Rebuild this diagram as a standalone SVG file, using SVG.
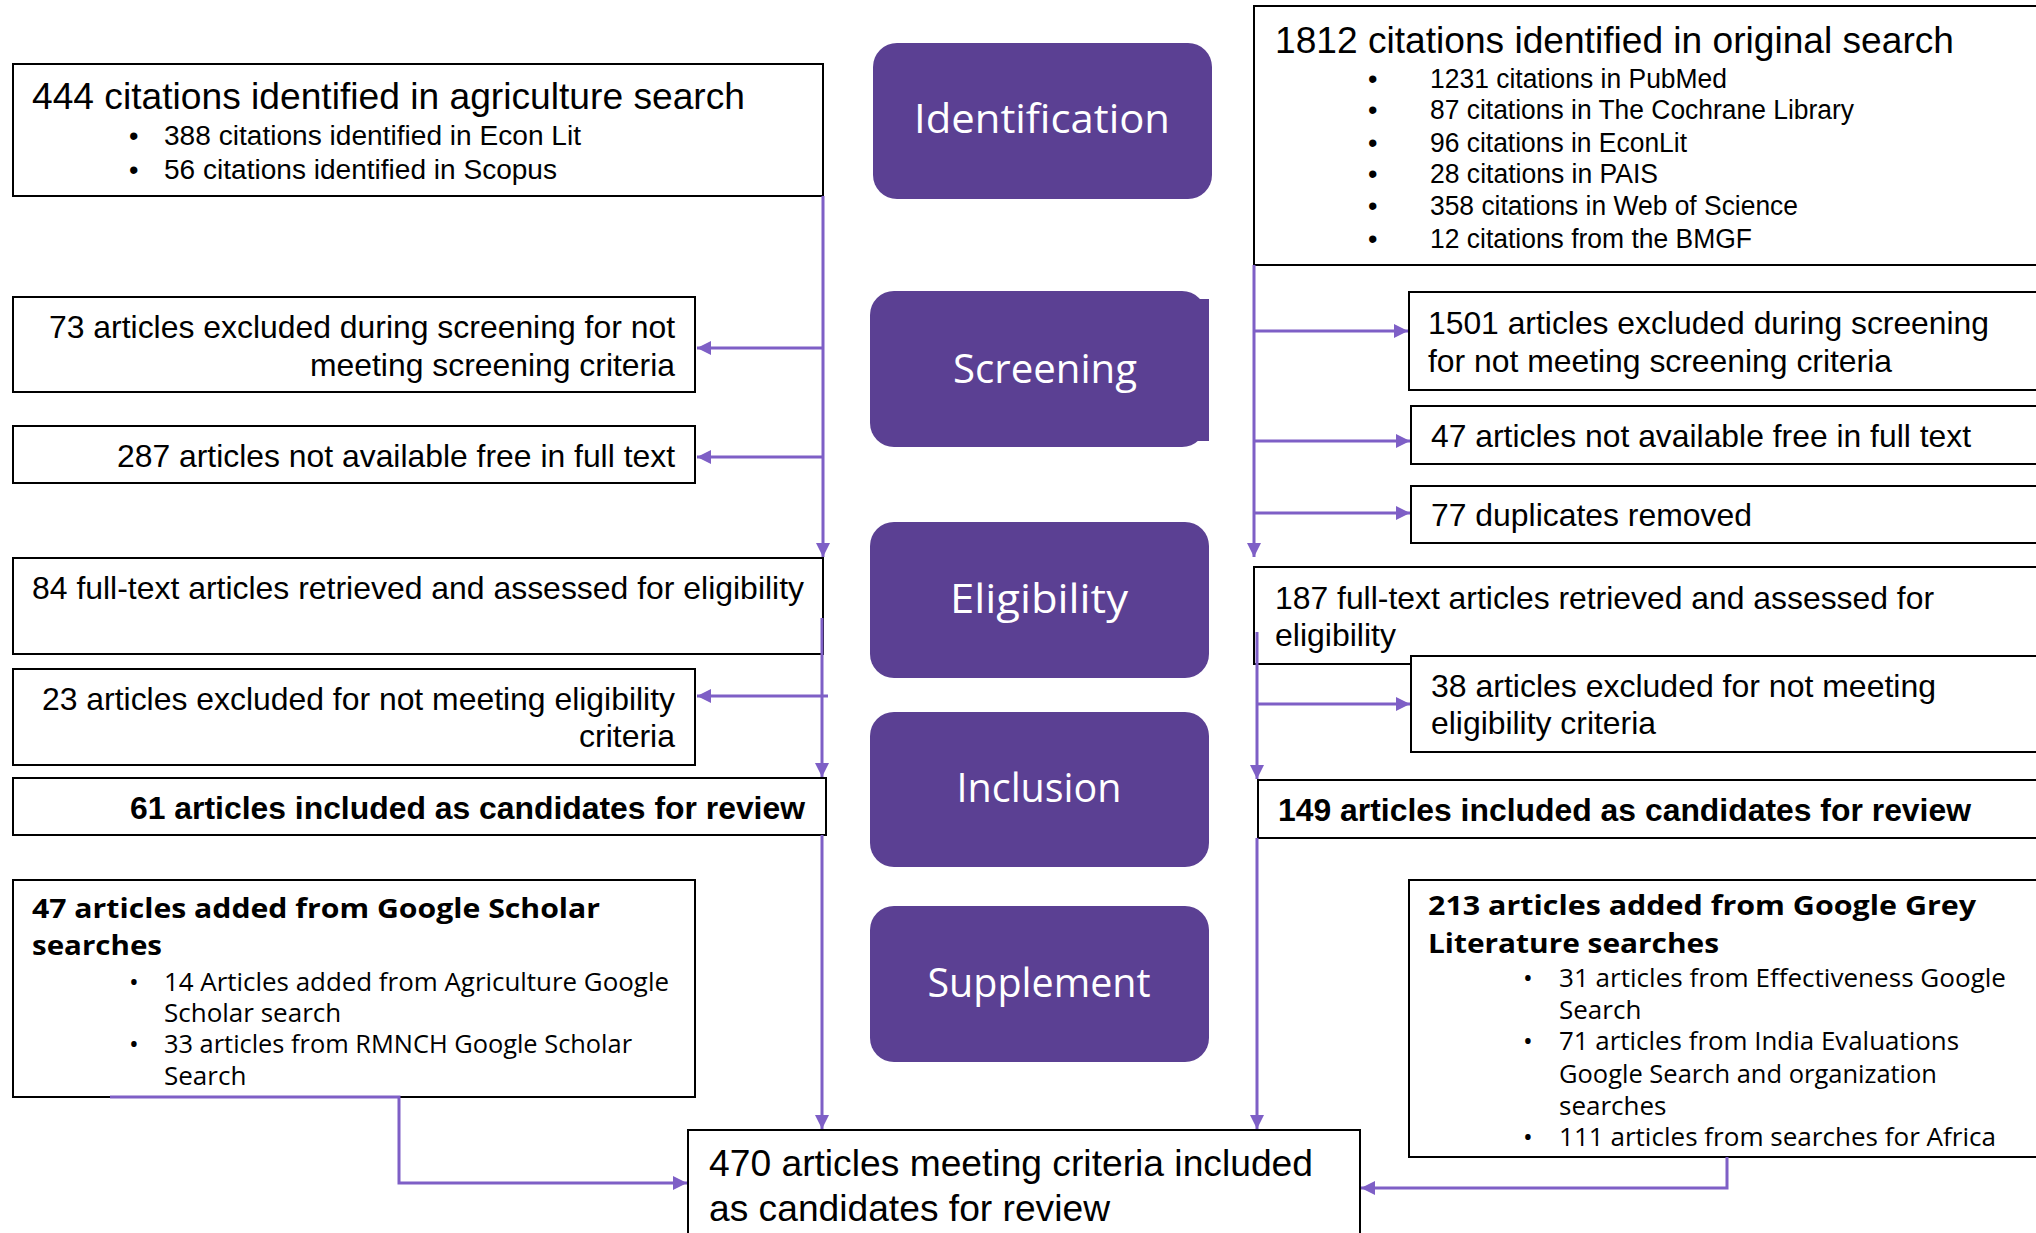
<svg xmlns="http://www.w3.org/2000/svg" width="2036" height="1233" viewBox="0 0 2036 1233">
<style>
.box{fill:#fff;stroke:#000;stroke-width:2}
.stage{fill:#5B4093}
.st{font-family:"Open Sans","DejaVu Sans",sans-serif;fill:#fff;font-size:40px;text-anchor:middle}
.t{font-family:"Liberation Sans",Arial,sans-serif;fill:#000}
.big{font-size:37px}
.mid{font-size:32px}
.sm{font-size:27px}
.b{font-weight:bold}
.r{text-anchor:end}
.g{font-family:"Open Sans","DejaVu Sans",sans-serif;fill:#000;font-size:26px}
.conn{stroke:#7E5FC6;stroke-width:3;fill:none}
</style>
<defs>
<marker id="ah" viewBox="0 0 10 10" refX="10" refY="5" markerWidth="14" markerHeight="14" markerUnits="userSpaceOnUse" orient="auto">
<path d="M0,0 L10,5 L0,10 z" fill="#7E5FC6"/>
</marker>
</defs>
<rect width="2036" height="1233" fill="#fff"/>

<g id="stage-identification"><rect class="stage" x="873" y="43" width="339" height="156" rx="24"/><text class="st" x="1042" y="133" textLength="256" lengthAdjust="spacingAndGlyphs">Identification</text></g>
<g id="stage-screening"><rect class="stage" x="870" y="291" width="336" height="156" rx="24"/><rect class="stage" x="1192" y="299" width="17" height="142"/><text class="st" x="1045" y="383" textLength="184" lengthAdjust="spacingAndGlyphs">Screening</text></g>
<g id="stage-eligibility"><rect class="stage" x="870" y="522" width="339" height="156" rx="24"/><text class="st" x="1039" y="613" textLength="178" lengthAdjust="spacingAndGlyphs">Eligibility</text></g>
<g id="stage-inclusion"><rect class="stage" x="870" y="712" width="339" height="155" rx="24"/><text class="st" x="1039" y="802" textLength="165" lengthAdjust="spacingAndGlyphs">Inclusion</text></g>
<g id="stage-supplement"><rect class="stage" x="870" y="906" width="339" height="156" rx="24"/><text class="st" x="1039" y="997" textLength="223" lengthAdjust="spacingAndGlyphs">Supplement</text></g>

<g id="agri-search"><rect class="box" x="13" y="64" width="810" height="132"/>
<text class="t big" x="32" y="109" textLength="713" lengthAdjust="spacingAndGlyphs">444 citations identified in agriculture search</text>
<text class="t sm" x="129" y="145">•</text><text class="t sm" x="164" y="145" textLength="417" lengthAdjust="spacingAndGlyphs">388 citations identified in Econ Lit</text>
<text class="t sm" x="129" y="179">•</text><text class="t sm" x="164" y="179" textLength="393" lengthAdjust="spacingAndGlyphs">56 citations identified in Scopus</text></g>

<g id="agri-excluded-screening"><rect class="box" x="13" y="297" width="682" height="95"/>
<text class="t mid r" x="675" y="338" textLength="626" lengthAdjust="spacingAndGlyphs">73 articles excluded during screening for not</text>
<text class="t mid r" x="675" y="376" textLength="365" lengthAdjust="spacingAndGlyphs">meeting screening criteria</text></g>

<g id="agri-not-free"><rect class="box" x="13" y="426" width="682" height="57"/>
<text class="t mid r" x="675" y="467" textLength="558" lengthAdjust="spacingAndGlyphs">287 articles not available free in full text</text></g>

<g id="agri-fulltext"><rect class="box" x="13" y="558" width="810" height="96"/>
<text class="t mid" x="32" y="599" textLength="772" lengthAdjust="spacingAndGlyphs">84 full-text articles retrieved and assessed for eligibility</text></g>

<g id="agri-excluded-eligibility"><rect class="box" x="13" y="669" width="682" height="96"/>
<text class="t mid r" x="675" y="710" textLength="633" lengthAdjust="spacingAndGlyphs">23 articles excluded for not meeting eligibility</text>
<text class="t mid r" x="675" y="747">criteria</text></g>

<g id="agri-included"><rect class="box" x="13" y="778" width="813" height="57"/>
<text class="t mid b r" x="805" y="819" textLength="675" lengthAdjust="spacingAndGlyphs">61 articles included as candidates for review</text></g>

<g id="google-scholar"><rect class="box" x="13" y="880" width="682" height="217"/>
<text class="g b" x="32" y="918" textLength="568" lengthAdjust="spacingAndGlyphs">47 articles added from Google Scholar</text>
<text class="g b" x="32" y="955" textLength="130" lengthAdjust="spacingAndGlyphs">searches</text>
<text class="g" x="129" y="991">•</text><text class="g" x="164" y="991" textLength="505" lengthAdjust="spacingAndGlyphs">14 Articles added from Agriculture Google</text>
<text class="g" x="164" y="1022">Scholar search</text>
<text class="g" x="129" y="1053">•</text><text class="g" x="164" y="1053" textLength="468" lengthAdjust="spacingAndGlyphs">33 articles from RMNCH Google Scholar</text>
<text class="g" x="164" y="1085">Search</text></g>

<g id="orig-search"><rect class="box" x="1254" y="6" width="800" height="259"/>
<text class="t big" x="1275" y="53" textLength="679" lengthAdjust="spacingAndGlyphs">1812 citations identified in original search</text>
<text class="t sm" x="1368" y="88">•</text><text class="t sm" x="1430" y="88" textLength="297" lengthAdjust="spacingAndGlyphs">1231 citations in PubMed</text>
<text class="t sm" x="1368" y="119">•</text><text class="t sm" x="1430" y="119" textLength="424" lengthAdjust="spacingAndGlyphs">87 citations in The Cochrane Library</text>
<text class="t sm" x="1368" y="152">•</text><text class="t sm" x="1430" y="152" textLength="257" lengthAdjust="spacingAndGlyphs">96 citations in EconLit</text>
<text class="t sm" x="1368" y="183">•</text><text class="t sm" x="1430" y="183" textLength="228" lengthAdjust="spacingAndGlyphs">28 citations in PAIS</text>
<text class="t sm" x="1368" y="215">•</text><text class="t sm" x="1430" y="215" textLength="368" lengthAdjust="spacingAndGlyphs">358 citations in Web of Science</text>
<text class="t sm" x="1368" y="248">•</text><text class="t sm" x="1430" y="248" textLength="322" lengthAdjust="spacingAndGlyphs">12 citations from the BMGF</text></g>

<g id="orig-excluded-screening"><rect class="box" x="1409" y="292" width="645" height="98"/>
<text class="t mid" x="1428" y="334" textLength="561" lengthAdjust="spacingAndGlyphs">1501 articles excluded during screening</text>
<text class="t mid" x="1428" y="372" textLength="464" lengthAdjust="spacingAndGlyphs">for not meeting screening criteria</text></g>

<g id="orig-not-free"><rect class="box" x="1411" y="406" width="643" height="58"/>
<text class="t mid" x="1431" y="447" textLength="540" lengthAdjust="spacingAndGlyphs">47 articles not available free in full text</text></g>

<g id="orig-duplicates"><rect class="box" x="1411" y="486" width="643" height="57"/>
<text class="t mid" x="1431" y="526" textLength="321" lengthAdjust="spacingAndGlyphs">77 duplicates removed</text></g>

<g id="orig-fulltext"><rect class="box" x="1254" y="567" width="800" height="97"/>
<text class="t mid" x="1275" y="609" textLength="659" lengthAdjust="spacingAndGlyphs">187 full-text articles retrieved and assessed for</text>
<text class="t mid" x="1275" y="646">eligibility</text></g>

<g id="orig-excluded-eligibility"><rect class="box" x="1411" y="656" width="643" height="96"/>
<text class="t mid" x="1431" y="697" textLength="505" lengthAdjust="spacingAndGlyphs">38 articles excluded for not meeting</text>
<text class="t mid" x="1431" y="734" textLength="225" lengthAdjust="spacingAndGlyphs">eligibility criteria</text></g>

<g id="orig-included"><rect class="box" x="1258" y="780" width="796" height="58"/>
<text class="t mid b" x="1278" y="821" textLength="693" lengthAdjust="spacingAndGlyphs">149 articles included as candidates for review</text></g>

<g id="google-grey"><rect class="box" x="1409" y="880" width="645" height="277"/>
<text class="g b" x="1428" y="915" textLength="548" lengthAdjust="spacingAndGlyphs">213 articles added from Google Grey</text>
<text class="g b" x="1428" y="953" textLength="291" lengthAdjust="spacingAndGlyphs">Literature searches</text>
<text class="g" x="1523" y="987">•</text><text class="g" x="1559" y="987" textLength="447" lengthAdjust="spacingAndGlyphs">31 articles from Effectiveness Google</text>
<text class="g" x="1559" y="1019">Search</text>
<text class="g" x="1523" y="1050">•</text><text class="g" x="1559" y="1050" textLength="400" lengthAdjust="spacingAndGlyphs">71 articles from India Evaluations</text>
<text class="g" x="1559" y="1083" textLength="378" lengthAdjust="spacingAndGlyphs">Google Search and organization</text>
<text class="g" x="1559" y="1115">searches</text>
<text class="g" x="1523" y="1146">•</text><text class="g" x="1559" y="1146" textLength="437" lengthAdjust="spacingAndGlyphs">111 articles from searches for Africa</text></g>

<g id="final"><rect class="box" x="688" y="1130" width="672" height="120"/>
<text class="t big" x="709" y="1176" textLength="604" lengthAdjust="spacingAndGlyphs">470 articles meeting criteria included</text>
<text class="t big" x="709" y="1221" textLength="401" lengthAdjust="spacingAndGlyphs">as candidates for review</text></g>

<g id="connectors">
<path class="conn" d="M823,196 V557" marker-end="url(#ah)"/>
<path class="conn" d="M823,348 H697" marker-end="url(#ah)"/>
<path class="conn" d="M823,457 H697" marker-end="url(#ah)"/>
<path class="conn" d="M822,618 V777" marker-end="url(#ah)"/>
<path class="conn" d="M828,696 H697" marker-end="url(#ah)"/>
<path class="conn" d="M822,835 V1129" marker-end="url(#ah)"/>
<path class="conn" d="M1254,265 V557" marker-end="url(#ah)"/>
<path class="conn" d="M1255,331 H1408" marker-end="url(#ah)"/>
<path class="conn" d="M1255,441 H1410" marker-end="url(#ah)"/>
<path class="conn" d="M1255,513 H1410" marker-end="url(#ah)"/>
<path class="conn" d="M1257,632 V779" marker-end="url(#ah)"/>
<path class="conn" d="M1257,704 H1410" marker-end="url(#ah)"/>
<path class="conn" d="M1257,838 V1129" marker-end="url(#ah)"/>
<path class="conn" d="M110,1097 H399 V1183 H687" marker-end="url(#ah)"/>
<path class="conn" d="M1727,1157 V1188 H1361" marker-end="url(#ah)"/>
</g>
</svg>
